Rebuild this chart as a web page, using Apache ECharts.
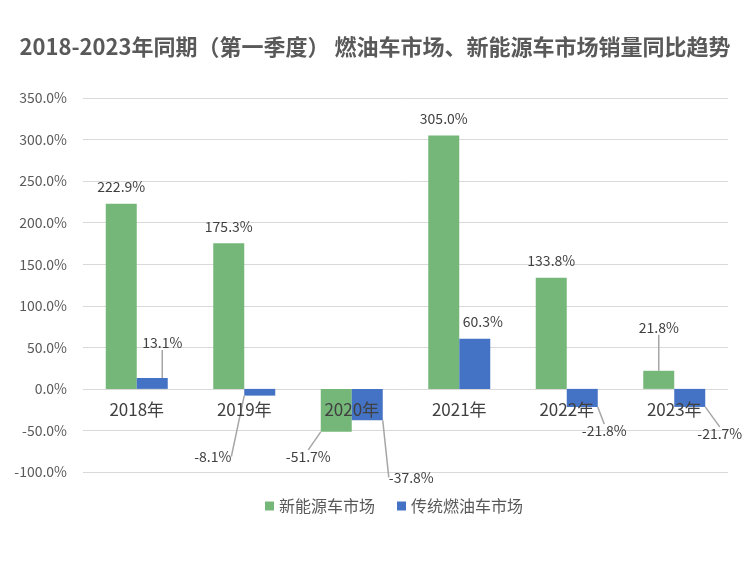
<!DOCTYPE html>
<html>
<head>
<meta charset="utf-8">
<script src="https://cdn.jsdelivr.net/npm/echarts@6/dist/echarts.min.js"></script>
<style>
html,body{margin:0;padding:0;background:#fff;}
#main{width:750px;height:571px;}
</style>
</head>
<body>
<div id="main"></div>
<script>
var categories = ['2018年', '2019年', '2020年', '2021年', '2022年', '2023年'];
var newEnergy = [222.9, 175.3, -51.7, 305.0, 133.8, 21.8];
var fuelCar = [13.1, -8.1, -37.8, 60.3, -21.8, -21.7];
var seriesNames = ['新能源车市场', '传统燃油车市场'];
var yTicks = { min: -100, max: 350, interval: 50 };

// label offsets (dx, dy) from default label positions, and whether a leader line is drawn
var newEnergyLabelOffsets = [[0, 0], [0, 0], [-28, 8], [0, 0], [0, 0], [0, -26]];
var newEnergyLabelLines = [false, false, true, false, false, true];
var fuelLabelOffsets = [[10, -18], [-47, 44], [44, 40], [8, 0], [22, 7], [30, 10]];
var fuelLabelLines = [true, true, true, false, true, true];

var FONT = '"Noto Sans CJK SC", "Noto Sans", sans-serif';
var GRID = { left: 83, right: 22, top: 98, bottom: 99 };
var CHART_H = 571;

function toItems(arr, lines) {
  return arr.map(function (v, i) {
    return {
      value: v,
      label: { position: v >= 0 ? 'top' : 'bottom' },
      labelLine: { show: lines[i] }
    };
  });
}

function layoutFn(offsets) {
  return function (p) {
    var o = offsets[p.dataIndex];
    return { dx: o[0], dy: o[1] };
  };
}

var labelStyle = {
  show: true,
  fontSize: 14,
  color: '#404040',
  fontFamily: FONT,
  distance: 10,
  formatter: function (p) { return p.value.toFixed(1) + '%'; }
};

// zero line position measured from the bottom of the plot area
var plotH = CHART_H - GRID.top - GRID.bottom;
var zeroOffset = (0 - yTicks.min) / (yTicks.max - yTicks.min) * plotH;

var chart = echarts.init(document.getElementById('main'));
chart.setOption({
  animation: false,
  backgroundColor: '#fff',
  title: {
    text: '2018-2023年同期（第一季度） 燃油车市场、新能源车市场销量同比趋势',
    left: 'center',
    top: 31,
    textStyle: { fontSize: 22, fontWeight: 'bold', color: '#595959', fontFamily: FONT }
  },
  legend: {
    data: seriesNames,
    left: 260,
    top: 493,
    icon: 'rect',
    itemWidth: 9,
    itemHeight: 9,
    itemGap: 22,
    textStyle: { fontSize: 16, color: '#595959', fontFamily: FONT }
  },
  grid: GRID,
  xAxis: {
    type: 'category',
    data: categories,
    offset: -zeroOffset,
    z: 5,
    axisLine: { show: false, onZero: false },
    axisTick: { show: false },
    axisLabel: { fontSize: 17, color: '#404040', margin: 12, fontFamily: FONT }
  },
  yAxis: {
    type: 'value',
    min: yTicks.min,
    max: yTicks.max,
    interval: yTicks.interval,
    axisLine: { show: false },
    axisTick: { show: false },
    splitLine: { lineStyle: { color: '#d9d9d9', width: 1 } },
    axisLabel: {
      fontSize: 14, color: '#595959', margin: 16, fontFamily: FONT,
      formatter: function (v) { return v.toFixed(1) + '%'; }
    }
  },
  series: [
    {
      name: seriesNames[0],
      type: 'bar',
      data: toItems(newEnergy, newEnergyLabelLines),
      barWidth: 31,
      barGap: '0%',
      itemStyle: { color: '#74b778' },
      label: labelStyle,
      labelLine: { show: true, lineStyle: { color: '#a6a6a6', width: 1.5 } },
      labelLayout: layoutFn(newEnergyLabelOffsets)
    },
    {
      name: seriesNames[1],
      type: 'bar',
      data: toItems(fuelCar, fuelLabelLines),
      barWidth: 31,
      itemStyle: { color: '#4472c4' },
      label: labelStyle,
      labelLine: { show: true, lineStyle: { color: '#a6a6a6', width: 1.5 } },
      labelLayout: layoutFn(fuelLabelOffsets)
    }
  ]
});
</script>
</body>
</html>
